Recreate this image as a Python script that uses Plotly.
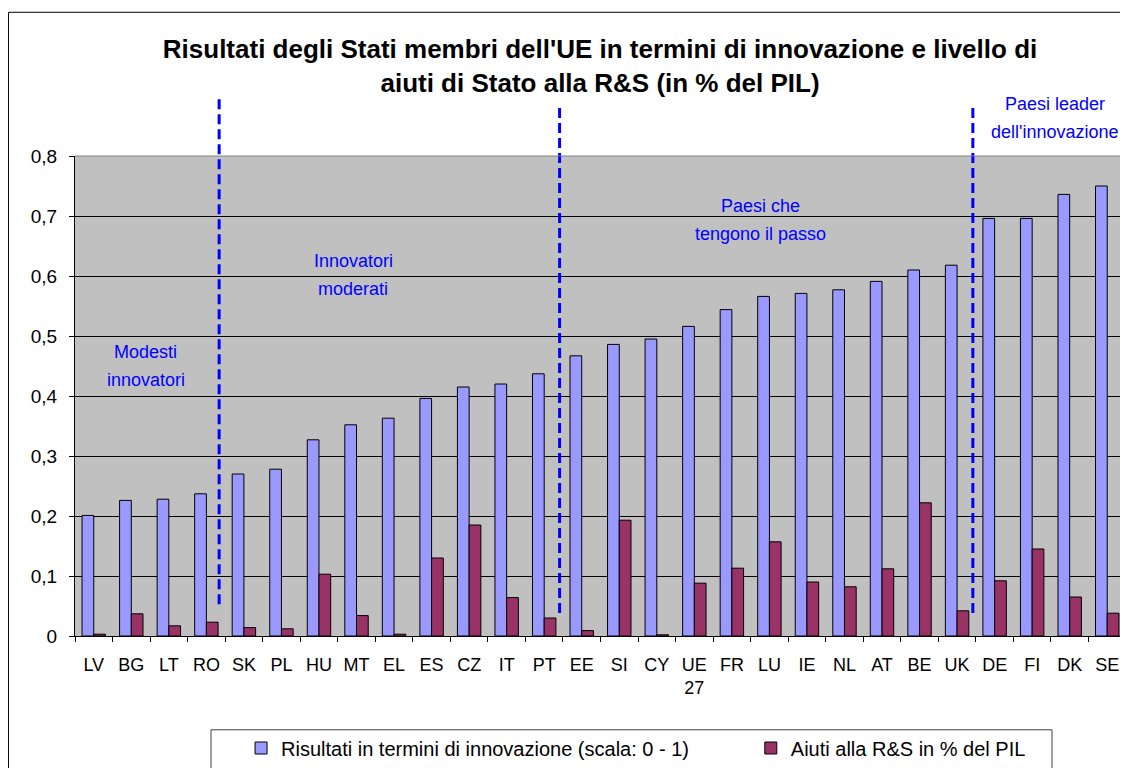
import plotly.graph_objects as go

# ---------------------------------------------------------------------------
# Data
# ---------------------------------------------------------------------------
countries = ["LV", "BG", "LT", "RO", "SK", "PL", "HU", "MT", "EL", "ES", "CZ",
             "IT", "PT", "EE", "SI", "CY", "UE<br>27", "FR", "LU", "IE", "NL",
             "AT", "BE", "UK", "DE", "FI", "DK", "SE"]

innovazione = [0.201, 0.226, 0.228, 0.237, 0.270, 0.278, 0.327, 0.352, 0.363,
               0.396, 0.415, 0.420, 0.437, 0.467, 0.486, 0.495, 0.516, 0.544,
               0.566, 0.571, 0.577, 0.591, 0.610, 0.618, 0.696, 0.696, 0.736,
               0.750]

aiuti_rs = [0.003, 0.037, 0.017, 0.023, 0.014, 0.012, 0.103, 0.034, 0.003,
            0.130, 0.185, 0.064, 0.030, 0.009, 0.193, 0.002, 0.088, 0.113,
            0.157, 0.090, 0.082, 0.112, 0.222, 0.042, 0.092, 0.145, 0.065,
            0.038]

y_ticks = [0, 0.1, 0.2, 0.3, 0.4, 0.5, 0.6, 0.7, 0.8]
y_ticktext = ["0", "0,1", "0,2", "0,3", "0,4", "0,5", "0,6", "0,7", "0,8"]

# group separators (category index) and group labels
separators = [3.34, 12.41, 23.42]
group_labels = [["Modesti", "innovatori"], ["Innovatori", "moderati"],
                ["Paesi che", "tengono il passo"],
                ["Paesi leader", "dell'innovazione"]]

FONT = "Liberation Sans, Arial, sans-serif"
BLUE = "#0000FF"

# ---------------------------------------------------------------------------
# Figure
# ---------------------------------------------------------------------------
fig = go.Figure()
fig.add_trace(go.Bar(
    x=countries, y=innovazione,
    name="Risultati in termini di innovazione (scala: 0 - 1)",
    marker=dict(color="#9999FF", line=dict(color="black", width=1)),
    legend="legend",
))
fig.add_trace(go.Bar(
    x=countries, y=aiuti_rs,
    name="Aiuti alla R&S in % del PIL",
    marker=dict(color="#993366", line=dict(color="black", width=1)),
    legend="legend2",
))

# dashed separators between groups
sep_tops = [1.125, 1.10, 1.10]
sep_bottoms = [0.066, 0.048, 0.048]
for xs, y1, y0 in zip(separators, sep_tops, sep_bottoms):
    fig.add_shape(type="line", xref="x", yref="paper", x0=xs, x1=xs,
                  y0=y0, y1=y1, line=dict(color=BLUE, width=3, dash="10px,5px"))

# group labels (two lines each, ~28px apart)
label_pos = [(1.39, 0.563), (6.91, 0.753), (17.77, 0.867), (25.6, 1.079)]
line_off = 14 / 481
for lines, (lx, ly) in zip(group_labels, label_pos):
    for txt, dy in zip(lines, (line_off, -line_off)):
        fig.add_annotation(text=txt, xref="x", yref="paper", x=lx, y=ly + dy,
                           xanchor="center", yanchor="middle", showarrow=False,
                           font=dict(color=BLUE, size=18, family=FONT))

# plot area border (top / right), outer chart frame, legend frame
fig.add_shape(type="line", xref="paper", yref="paper", x0=0, x1=1, y0=1, y1=1,
              line=dict(color="#808080", width=1))
fig.add_shape(type="line", xref="paper", yref="paper", x0=1, x1=1, y0=0, y1=1,
              line=dict(color="#808080", width=1))
fig.add_shape(type="rect", xref="paper", yref="paper", x0=-0.0633, x1=1.05,
              y0=-0.5, y1=1.2994, line=dict(color="black", width=1), layer="below")
fig.add_shape(type="rect", xref="paper", yref="paper", x0=0.1294, x1=0.9296,
              y0=-0.5, y1=-0.1954, line=dict(color="#404040", width=1), layer="below")

legend_style = dict(
    orientation="h", yanchor="middle", xanchor="left", y=-0.2308,
    bgcolor="rgba(0,0,0,0)", borderwidth=0, font=dict(size=20),
)

fig.update_layout(
    width=1120, height=760,
    margin=dict(l=67, r=2, t=148, b=131),
    paper_bgcolor="white",
    plot_bgcolor="#C0C0C0",
    font=dict(family=FONT, color="black", size=18),
    title=dict(
        text="<b>Risultati degli Stati membri dell'UE in termini di innovazione e livello di<br>"
             "aiuti di Stato alla R&S (in % del PIL)</b>",
        xref="container", yref="container", x=0.5286, y=0.9336,
        xanchor="center", yanchor="middle",
        font=dict(size=26, family=FONT, color="black"),
    ),
    barmode="group",
    bargap=0.376,
    bargroupgap=0,
    xaxis=dict(
        showline=True, linecolor="black", linewidth=1,
        ticks="outside", tickson="boundaries", ticklen=5, tickcolor="black",
        tickfont=dict(size=18), showgrid=False, ticklabelstandoff=12,
    ),
    yaxis=dict(
        range=[0, 0.8], tickvals=y_ticks, ticktext=y_ticktext,
        showline=True, linecolor="black", linewidth=1,
        ticks="outside", ticklen=5, tickcolor="black",
        gridcolor="black", gridwidth=1, zeroline=False,
        tickfont=dict(size=19), ticklabelstandoff=8,
    ),
    legend=dict(x=0.158, **legend_style),
    legend2=dict(x=0.643, **legend_style),
    showlegend=True,
)

fig.write_html("out.html")
